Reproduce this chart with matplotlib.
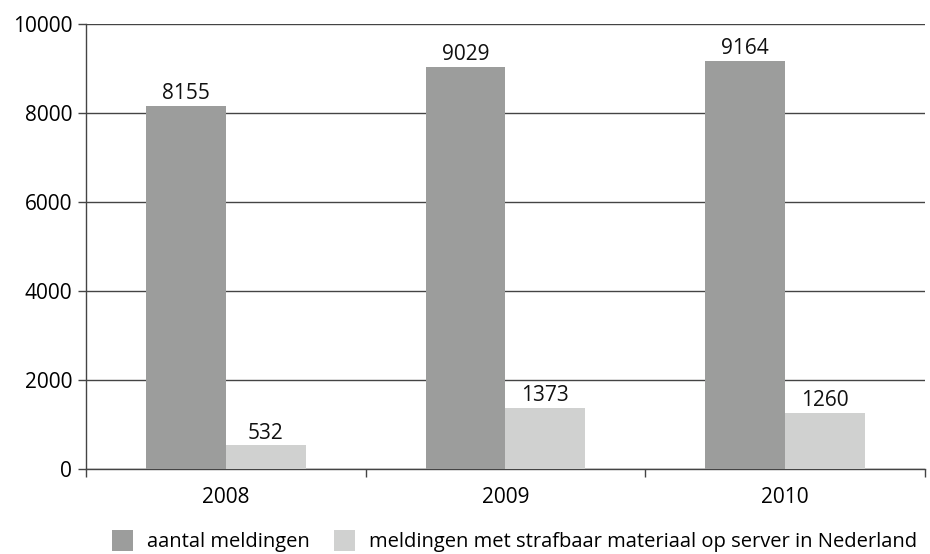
import matplotlib

matplotlib.use("Agg")
import matplotlib.pyplot as plt
import numpy as np

years = ["2008", "2009", "2010"]
aantal = [8155, 9029, 9164]
strafbaar = [532, 1373, 1260]
series_labels = ["aantal meldingen", "meldingen met strafbaar materiaal op server in Nederland"]

DARK = "#9c9d9c"
LIGHT = "#d0d1d0"
LINE = "#444444"

plt.rcParams["font.family"] = ["Open Sans", "DejaVu Sans"]
plt.rcParams["font.size"] = 15

fig = plt.figure(figsize=(9.3, 5.54), dpi=100)
ax = fig.add_axes([0.0925, 0.1534, 0.902, 0.8033])

x = np.arange(len(years))
width = 0.2857
b1 = ax.bar(x - width / 2, aantal, width, color=DARK, label=series_labels[0], zorder=3)
b2 = ax.bar(x + width / 2, strafbaar, width, color=LIGHT, label=series_labels[1], zorder=3)

for bars, vals in ((b1, aantal), (b2, strafbaar)):
    for bar, v in zip(bars, vals):
        ax.text(bar.get_x() + bar.get_width() / 2, v + 40, str(v),
                ha="center", va="bottom", fontsize=15, color="#111111")

ax.set_xlim(-0.5, len(years) - 0.5)
ax.set_ylim(0, 10000)
ax.set_yticks(np.arange(0, 10001, 2000))
ax.yaxis.grid(True, color=LINE, linewidth=1.0, zorder=0)
ax.set_axisbelow(True)

ax.set_xticks(x)
ax.set_xticklabels(years)
ax.tick_params(axis="x", which="major", length=0, pad=13)
ax.set_xticks(np.arange(-0.5, len(years), 1.0), minor=True)
ax.tick_params(axis="x", which="minor", length=6, color=LINE, width=1.0)
ax.tick_params(axis="y", length=6, color=LINE, width=1.0, pad=4)

for side in ("top", "right"):
    ax.spines[side].set_visible(False)
for side in ("left", "bottom"):
    ax.spines[side].set_color(LINE)
    ax.spines[side].set_linewidth(1.0)

fig.legend(handles=[b1, b2], labels=series_labels, loc="lower center",
           bbox_to_anchor=(0.553, -0.03), ncol=2, frameon=False,
           handlelength=1.05, handleheight=1.2, handletextpad=0.7,
           columnspacing=1.2, fontsize=14.5)

fig.savefig("out.png", dpi=100)
